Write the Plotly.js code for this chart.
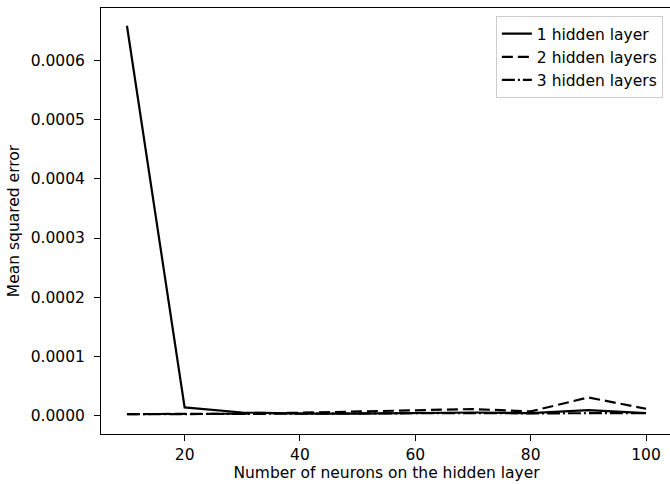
<!DOCTYPE html>
<html>
<head>
<meta charset="utf-8">
<script src="https://cdn.plot.ly/plotly-3.0.1.min.js"></script>
<style>
html,body{margin:0;padding:0;overflow:hidden;background:#fff;}
#chart{width:673px;height:484px;}
</style>
</head>
<body>
<div id="chart"></div>
<script>
const neurons = [10, 20, 30, 40, 50, 60, 70, 80, 90, 100];
const mse1 = [0.000659, 0.0000135, 0.000005, 0.000003, 0.000003, 0.000004, 0.000005, 0.000004, 0.000009, 0.000004];
const mse2 = [0.0000022, 0.000002, 0.000003, 0.0000045, 0.0000068, 0.000009, 0.0000108, 0.0000068, 0.0000304, 0.0000113];
const mse3 = [0.000002, 0.0000025, 0.000003, 0.000003, 0.0000035, 0.000004, 0.000004, 0.0000035, 0.000004, 0.000004];
const seriesNames = ["1 hidden layer", "2 hidden layers", "3 hidden layers"];
const yTicks = [0, 0.0001, 0.0002, 0.0003, 0.0004, 0.0005, 0.0006];
const xTicks = [20, 40, 60, 80, 100];

const font = {family: "DejaVu Sans", size: 15.5, color: "#000"};
const traces = [
  {x: neurons, y: mse1, name: seriesNames[0], legendgroup: "a", mode: "lines", line: {color: "#000", width: 2.2}},
  {x: neurons, y: mse2, name: seriesNames[1], legendgroup: "b", mode: "lines", line: {color: "#000", width: 2.2, dash: "11px,5px"}},
  {x: neurons, y: mse3, name: seriesNames[2], legendgroup: "c", mode: "lines", line: {color: "#000", width: 2.2, dash: "13px,3px,2px,3px"}}
];
const layout = {
  width: 673, height: 484,
  margin: {l: 101, r: 1, t: 8, b: 50},
  paper_bgcolor: "#fff", plot_bgcolor: "#fff",
  font: font,
  showlegend: true,
  legend: {x: 0.984, xanchor: "right", y: 0.981, yanchor: "top",
           bordercolor: "#cccccc", borderwidth: 1, bgcolor: "rgba(255,255,255,0.8)",
           tracegroupgap: 0,
           font: font},
  xaxis: {range: [5.5, 104.5], tickvals: xTicks, ticktext: xTicks.map(String),
          showgrid: false, zeroline: false, showline: true, mirror: true,
          linecolor: "#000", linewidth: 1, ticks: "outside", ticklen: 6, tickwidth: 1, tickcolor: "#000",
          tickfont: font,
          title: {text: "Number of neurons on the hidden layer", font: font, standoff: 4}},
  yaxis: {range: [-0.0000314, 0.000689], tickvals: yTicks, ticktext: yTicks.map(v => v.toFixed(4)),
          showgrid: false, zeroline: false, showline: true, mirror: true,
          linecolor: "#000", linewidth: 1, ticks: "outside", ticklen: 6, tickwidth: 1, tickcolor: "#000",
          tickfont: font, ticklabelstandoff: 6,
          title: {text: "Mean squared error", font: font, standoff: 7}}
};
Plotly.newPlot("chart", traces, layout, {displayModeBar: false, staticPlot: true});
</script>
</body>
</html>
